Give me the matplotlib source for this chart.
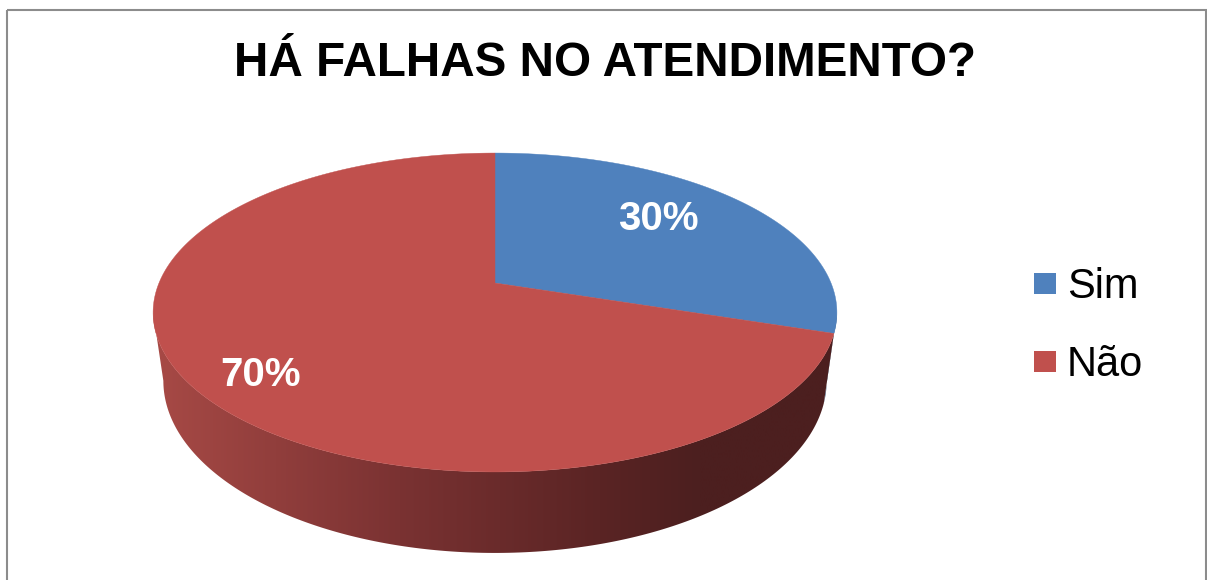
import numpy as np
import matplotlib
matplotlib.use("Agg")
import matplotlib.pyplot as plt
from matplotlib.patches import Polygon, Rectangle

# data
labels = ["Sim", "Não"]
values = [30, 70]
pct_labels = ["30%", "70%"]
title = "HÁ FALHAS NO ATENDIMENTO?"

top_colors = ["#4F81BD", "#C0504D"]
side_dark = ["#2C4A6E", None]   # red side uses the gradient below

W, H = 1207, 580
fig = plt.figure(figsize=(W / 100, H / 100), dpi=100)
ax = fig.add_axes([0, 0, 1, 1])
ax.set_xlim(0, W)
ax.set_ylim(H, 0)
ax.axis("off")

# perspective disk: centre, radii, depth factor, thickness
cx, cy = 495, 283
R, S, k, T = 336, 154, 0.185, 66
shrink = 0.97


def top_pt(theta, r=1.0):
    u, v = r * np.sin(theta), r * np.cos(theta)
    w = 1 + k * v
    return cx + R * u / w, cy - S * v / w


def bot_pt(theta):
    u, v = np.sin(theta), np.cos(theta)
    w = 1 + k * v
    return cx + shrink * R * u / w, cy - S * v / w + T / w


# slice angles, clockwise from 12 o'clock
fr = np.array(values) / sum(values)
edges = np.concatenate([[0], np.cumsum(fr)]) * 2 * np.pi

# visible side range (between left and right silhouettes)
vis_a = np.arccos(-k)
vis_b = 2 * np.pi - vis_a


def side_poly(a, b):
    t = np.linspace(a, b, 200)
    tx, ty = top_pt(t)
    bx, by = bot_pt(t[::-1])
    return np.column_stack([np.concatenate([tx, bx]), np.concatenate([ty, by])])


# gradient for the red side
stops_x = [150, 400, 600, 700, 850]
stops_c = np.array([(168, 74, 70), (122, 50, 50), (90, 36, 36), (76, 31, 31), (76, 31, 31)]) / 255
gx = np.linspace(140, 850, 400)
grad = np.stack([np.interp(gx, stops_x, stops_c[:, i]) for i in range(3)], axis=-1)[None, :, :]

for i in range(len(values)):
    a, b = max(edges[i], vis_a), min(edges[i + 1], vis_b)
    if a >= b:
        continue
    poly = Polygon(side_poly(a, b), closed=True, facecolor="none", edgecolor="none")
    ax.add_patch(poly)
    if side_dark[i] is None:
        im = ax.imshow(grad, extent=(140, 850, 560, 150), aspect="auto", zorder=1,
                       interpolation="bilinear")
        im.set_clip_path(poly)
    else:
        poly.set_facecolor(side_dark[i])
        poly.set_zorder(1)

for i in range(len(values)):
    t = np.linspace(edges[i], edges[i + 1], 300)
    tx, ty = top_pt(t)
    xs = np.concatenate([[cx], tx])
    ys = np.concatenate([[cy], ty])
    ax.add_patch(Polygon(np.column_stack([xs, ys]), closed=True, facecolor=top_colors[i],
                         edgecolor=top_colors[i], lw=0.3, zorder=2))

# percentage labels
label_r = [0.66, 0.8]
label_off = [(-4, -8), (4, 13)]
for i in range(len(values)):
    mid = (edges[i] + edges[i + 1]) / 2
    lx, ly = top_pt(mid, label_r[i])
    ax.text(lx + label_off[i][0], ly + label_off[i][1], pct_labels[i], color="white",
            fontsize=29, fontweight="bold", family="Liberation Sans",
            ha="center", va="center", zorder=3)

ax.text(605, 76, title, fontsize=34.3, fontweight="bold", family="Liberation Sans",
        ha="center", va="baseline", color="black")

# legend
for i, lab in enumerate(labels):
    y0 = 273 + 78 * i
    ax.add_patch(Rectangle((1034, y0), 22, 21, facecolor=top_colors[i], edgecolor="none"))
    ax.text(1067, y0 + 25, lab, fontsize=30, family="Liberation Sans", ha="left",
            va="baseline", color="black")

# outer frame
ax.add_patch(Rectangle((7, 10), 1199, 580, facecolor="none", edgecolor="#8c8c8c", lw=1.5))

fig.savefig("out.png", dpi=100)
